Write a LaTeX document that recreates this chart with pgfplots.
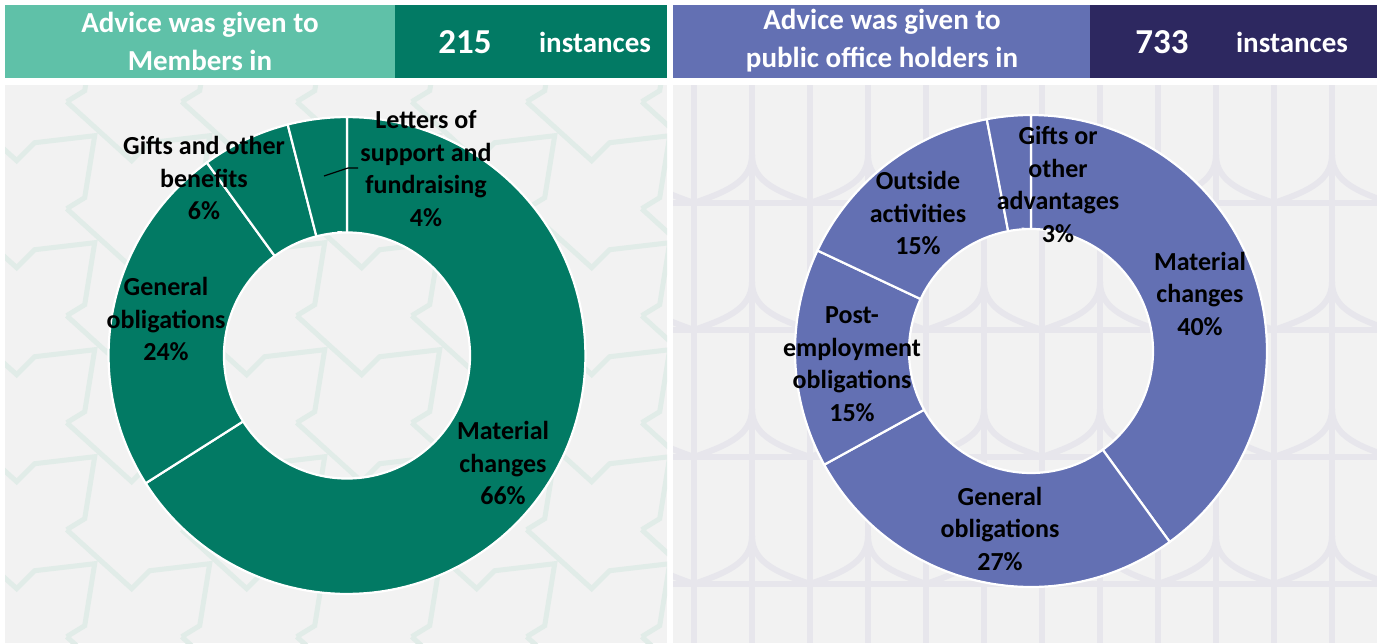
\documentclass[border=0pt]{standalone}
\usepackage{pgfplots}
\pgfplotsset{compat=1.18}
\usepackage{fontspec}
\setmainfont{Carlito}

\definecolor{lgreen}{HTML}{5FC1A8}
\definecolor{dgreen}{HTML}{027A64}
\definecolor{lpurple}{HTML}{6370B3}
\definecolor{navy}{HTML}{2D2860}
\definecolor{bg}{HTML}{F2F2F2}
\definecolor{pat1}{HTML}{E1ECE8}
\definecolor{pat2}{HTML}{E7E6EC}

\pgfplotsset{donut/.style={width=310pt, height=310pt, scale only axis,
  xmin=-1.3, xmax=1.3, ymin=-1.3, ymax=1.3, hide axis, clip=false, anchor=origin},
  slice/.style={draw=white, line width=1.1pt, samples=120, variable=\t}}

\newcommand{\lab}{\fontsize{13}{16.25}\selectfont\bfseries}
\newcommand{\hdr}{\fontsize{14.5}{19}\selectfont\bfseries}

\newcommand{\leftpattern}[1]{%
\foreach \i in {-1,...,6} {
  \foreach \j in {-1,...,7} {
    \pgfmathsetmacro\vx{16.7+115*\i}
    \pgfmathsetmacro\vy{-53.3+107*\j}
    \begin{scope}[shift={(\vx,\vy)}]
      \draw[#1, line width=2.5pt, line join=miter] (-65,-59) -- (0,0) -- (18,-18) -- (78,-25) -- (68,37) -- (50,48);
    \end{scope}
  }
}}
\newcommand{\rightpattern}[1]{%
\foreach \k in {0,...,12} \draw[#1, line width=3pt] ({694+58*\k},85) -- ({694+58*\k},643);
\foreach \y in {203,330,457,584} \draw[#1, line width=3pt] (673,\y) -- (1377,\y);
\foreach \k in {-1,1,3,5,7,9,11,13} {
  \foreach \y in {203,330,457,584,711} {
    \draw[#1, line width=3pt] ({694+58*\k},{\y-48}) .. controls ({694+58*\k},{\y-20}) and ({694+58*\k-30},{\y-10}) .. ({694+58*\k-58},{\y});
    \draw[#1, line width=3pt] ({694+58*\k},{\y-48}) .. controls ({694+58*\k},{\y-20}) and ({694+58*\k+30},{\y-10}) .. ({694+58*\k+58},{\y});
  }
}}

\begin{document}
\begin{tikzpicture}
\begin{scope}[x=0.5pt, y=-0.5pt]
\path[fill=white] (0,0) rectangle (1377,643);
% panels
\fill[bg] (5,85) rectangle (667,643);
\fill[bg] (673,85) rectangle (1377,643);
\begin{scope}
\clip (5,85) rectangle (667,643);
\leftpattern{pat1}
\end{scope}
\begin{scope}
\clip (673,85) rectangle (1377,643);
\rightpattern{pat2}
\end{scope}
% headers
\fill[lgreen] (5,5) rectangle (395,78);
\fill[dgreen] (395,5) rectangle (667,78);
\fill[lpurple] (673,5) rectangle (1090,78);
\fill[navy] (1090,5) rectangle (1377,78);
\node[text=white, align=center, font=\hdr] at (200,41) {Advice was given to\\Members in};
\node[text=white, font=\fontsize{17.5}{20}\selectfont\bfseries] at (465,42) {215};
\node[text=white, font=\hdr] at (595,42) {instances};
\node[text=white, align=center, font=\hdr] at (882,41) {Advice was given to\\public office holders in};
\node[text=white, font=\fontsize{17.5}{20}\selectfont\bfseries] at (1162,42) {733};
\node[text=white, font=\hdr] at (1292,42) {instances};
\end{scope}

% Members: Material changes 66, General obligations 24, Gifts and other benefits 6, Letters of support 4
\begin{axis}[donut, width=310pt, height=310pt, at={(173.5pt,-177.75pt)}]
\addplot[slice, fill=dgreen, domain=0:66] ({sin(3.6*\t)},{cos(3.6*\t)}) -- (axis cs:0,0) -- cycle;
\addplot[slice, fill=dgreen, domain=66:90] ({sin(3.6*\t)},{cos(3.6*\t)}) -- (axis cs:0,0) -- cycle;
\addplot[slice, fill=dgreen, domain=90:96] ({sin(3.6*\t)},{cos(3.6*\t)}) -- (axis cs:0,0) -- cycle;
\addplot[slice, fill=dgreen, domain=96:100] ({sin(3.6*\t)},{cos(3.6*\t)}) -- (axis cs:0,0) -- cycle;
\addplot[slice, fill=bg, domain=0:100, samples=160] ({0.516*sin(3.6*\t)},{0.516*cos(3.6*\t)}) -- cycle;
\end{axis}

% Public office holders: Material changes 40, General obligations 27, Post-employment 15, Outside activities 15, Gifts 3
\begin{axis}[donut, width=306.8pt, height=306.8pt, at={(515.5pt,-175.5pt)}]
\addplot[slice, fill=lpurple, domain=0:40] ({sin(3.6*\t)},{cos(3.6*\t)}) -- (axis cs:0,0) -- cycle;
\addplot[slice, fill=lpurple, domain=40:67] ({sin(3.6*\t)},{cos(3.6*\t)}) -- (axis cs:0,0) -- cycle;
\addplot[slice, fill=lpurple, domain=67:82] ({sin(3.6*\t)},{cos(3.6*\t)}) -- (axis cs:0,0) -- cycle;
\addplot[slice, fill=lpurple, domain=82:97] ({sin(3.6*\t)},{cos(3.6*\t)}) -- (axis cs:0,0) -- cycle;
\addplot[slice, fill=lpurple, domain=97:100] ({sin(3.6*\t)},{cos(3.6*\t)}) -- (axis cs:0,0) -- cycle;
\addplot[slice, fill=bg, domain=0:100, samples=160] ({0.517*sin(3.6*\t)},{0.517*cos(3.6*\t)}) -- cycle;
\end{axis}

\begin{scope}[x=0.5pt, y=-0.5pt]
% background pattern seen through the holes of the donuts
\begin{scope}
\clip (347,355.5) circle[radius=121.5];
\leftpattern{pat1}
\end{scope}
\begin{scope}
\clip (1031,351) circle[radius=120.5];
\rightpattern{pat2}
\end{scope}
% labels
\draw[black, line width=0.6pt] (324,176) -- (348,168) -- (358,168);
\node[align=center, font=\lab] at (426,168.5) {Letters of\\support and\\fundraising\\4\%};
\node[align=center, font=\lab] at (204,178) {Gifts and other\\benefits\\6\%};
\node[align=center, font=\lab] at (166,319) {General\\obligations\\24\%};
\node[align=center, font=\lab] at (503,463) {Material\\changes\\66\%};
\node[align=center, font=\lab] at (1058,184.5) {Gifts or\\other\\advantages\\3\%};
\node[align=center, font=\lab] at (918,213) {Outside\\activities\\15\%};
\node[align=center, font=\lab] at (852,364) {Post-\\employment\\obligations\\15\%};
\node[align=center, font=\lab] at (1000,528.5) {General\\obligations\\27\%};
\node[align=center, font=\lab] at (1200,293.5) {Material\\changes\\40\%};
\end{scope}
\end{tikzpicture}
\end{document}
